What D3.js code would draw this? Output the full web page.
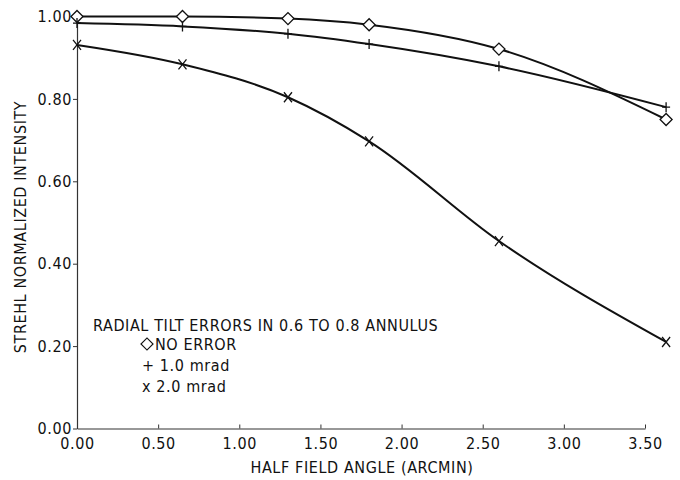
<!DOCTYPE html>
<html>
<head>
<meta charset="utf-8">
<script src="https://cdn.jsdelivr.net/npm/d3@7"></script>
<style>
  body { margin: 0; background: #fff; }
  text { font-family: "DejaVu Sans Condensed", "Liberation Sans Narrow", sans-serif; fill: #111; }
</style>
</head>
<body>
<svg width="680" height="480"></svg>
<script>
// field angles (arcmin) where each case was computed
var angles = [0, 0.65, 1.30, 1.80, 2.60, 3.63];
var noError = [1.00, 1.00, 0.995, 0.98, 0.921, 0.75];
var mrad1 = [0.984, 0.976, 0.958, 0.933, 0.879, 0.780];
var mrad2 = [0.931, 0.884, 0.804, 0.697, 0.455, 0.210];

var xTicks = [0, 0.5, 1.0, 1.5, 2.0, 2.5, 3.0, 3.5];
var yTicks = [0, 0.2, 0.4, 0.6, 0.8, 1.0];

var legendTitle = "RADIAL TILT ERRORS IN 0.6 TO 0.8 ANNULUS";
var legendItems = ["NO ERROR", "1.0 mrad", "2.0 mrad"];

var svg = d3.select("svg");

var x = d3.scaleLinear().domain([0, 3.5]).range([77, 645]);
var y = d3.scaleLinear().domain([0, 1]).range([428.5, 16.5]);

var g = svg.append("g");

function styleText(sel) {
    sel.style("font-size", "16px").style("letter-spacing", "0.6px");
}

// axes
var xAxis = g.append("g")
    .attr("transform", "translate(0," + y(0) + ")")
    .call(d3.axisBottom(x).tickValues(xTicks).tickSizeInner(-4).tickSizeOuter(0)
        .tickFormat(d3.format(".2f")));
xAxis.select(".domain").attr("stroke", "#333").attr("stroke-width", 1.2);
xAxis.selectAll(".tick line").attr("stroke", "#333");
xAxis.selectAll(".tick text")
    .attr("y", 9)
    .attr("dy", "0.71em")
    .call(styleText);

var yAxis = g.append("g")
    .attr("transform", "translate(" + x(0) + ",0)")
    .call(d3.axisLeft(y).tickValues(yTicks).tickSizeInner(4).tickSizeOuter(0)
        .tickFormat(d3.format(".2f")));
yAxis.select(".domain").attr("stroke", "#333").attr("stroke-width", 1.2);
yAxis.selectAll(".tick line").attr("stroke", "#333");
yAxis.selectAll(".tick text")
    .attr("x", -5)
    .call(styleText);

// axis titles
g.append("text")
    .attr("x", 362).attr("y", 473)
    .attr("text-anchor", "middle")
    .call(styleText)
    .text("HALF FIELD ANGLE (ARCMIN)");

g.append("text")
    .attr("transform", "translate(26,227) rotate(-90)")
    .attr("text-anchor", "middle")
    .call(styleText)
    .text("STREHL NORMALIZED INTENSITY");

// curves
var line = d3.line()
    .x(function(d) { return x(d[0]); })
    .y(function(d) { return y(d[1]); })
    .curve(d3.curveMonotoneX);

var series = [noError, mrad1, mrad2];
series.forEach(function(vals) {
    g.append("path")
        .datum(angles.map(function(a, i) { return [a, vals[i]]; }))
        .attr("fill", "none")
        .attr("stroke", "#111")
        .attr("stroke-width", 2)
        .attr("d", line);
});

// markers
var diamond = d3.symbol().type(d3.symbolSquare).size(72);
g.append("g").selectAll("path")
    .data(angles.map(function(a, i) { return [a, noError[i]]; }))
    .enter().append("path")
    .attr("d", diamond)
    .attr("transform", function(d) { return "translate(" + x(d[0]) + "," + y(d[1]) + ") rotate(45)"; })
    .attr("fill", "#fff")
    .attr("stroke", "#111")
    .attr("stroke-width", 1.3);

g.append("g").selectAll("path")
    .data(angles.map(function(a, i) { return [a, mrad1[i]]; }))
    .enter().append("path")
    .attr("d", "M-4,0H4M0,-5V5")
    .attr("transform", function(d) { return "translate(" + x(d[0]) + "," + y(d[1]) + ")"; })
    .attr("fill", "none")
    .attr("stroke", "#111")
    .attr("stroke-width", 1.3);

g.append("g").selectAll("path")
    .data(angles.map(function(a, i) { return [a, mrad2[i]]; }))
    .enter().append("path")
    .attr("d", "M-4,-5L4,5M4,-5L-4,5")
    .attr("transform", function(d) { return "translate(" + x(d[0]) + "," + y(d[1]) + ")"; })
    .attr("fill", "none")
    .attr("stroke", "#111")
    .attr("stroke-width", 1.3);

// legend
var lg = g.append("g");
lg.append("text")
    .attr("x", 93).attr("y", 331)
    .call(styleText)
    .text(legendTitle);

lg.append("path")
    .attr("d", diamond)
    .attr("transform", "translate(147,344) rotate(45)")
    .attr("fill", "#fff")
    .attr("stroke", "#111")
    .attr("stroke-width", 1.2);

var prefixes = ["", "+ ", "x "];
lg.selectAll("text.item")
    .data(legendItems)
    .enter().append("text")
    .attr("class", "item")
    .attr("x", function(d, i) { return i === 0 ? 155 : 142; })
    .attr("y", function(d, i) { return 350 + i * 21; })
    .call(styleText)
    .text(function(d, i) { return prefixes[i] + d; });
</script>
</body>
</html>
